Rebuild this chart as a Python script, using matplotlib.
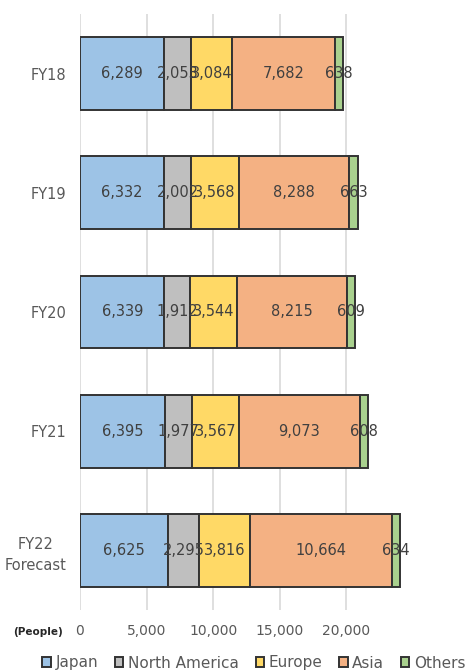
import numpy as np
import matplotlib.pyplot as plt

# headcount by region, fiscal years
years = ['FY18', 'FY19', 'FY20', 'FY21', 'FY22\nForecast']
regions = ['Japan', 'North America', 'Europe', 'Asia', 'Others']
japan = [6289, 6332, 6339, 6395, 6625]
north_america = [2053, 2002, 1912, 1977, 2295]
europe = [3084, 3568, 3544, 3567, 3816]
asia = [7682, 8288, 8215, 9073, 10664]
others = [638, 663, 609, 608, 634]

colors = ['#9DC3E6', '#BFBFBF', '#FFD966', '#F4B183', '#A9D18E']
text_color = '#404040'

fig = plt.figure(figsize=(4.68, 6.71), dpi=100)
ax = fig.add_axes([80 / 468, 61 / 671, 333 / 468, 596 / 671])

y = np.arange(len(years))
left = np.zeros(len(years))
for name, vals, col in zip(regions, [japan, north_america, europe, asia, others], colors):
    vals = np.array(vals)
    ax.barh(y, vals, left=left, height=0.61, color=col, edgecolor='#333333',
            linewidth=1.4, label=name, zorder=3)
    for yi, l, v in zip(y, left, vals):
        ax.text(l + v / 2, yi, f'{v:,}', ha='center', va='center',
                fontsize=10.5, color=text_color, zorder=4)
    left += vals

ax.set_ylim(len(years) - 0.5, -0.5)
ax.set_xlim(0, 25000)
ax.set_yticks(y)
ax.set_yticklabels(years, fontsize=10.5, color='#595959', linespacing=1.5,
                   multialignment='center')
ax.set_xticks([0, 5000, 10000, 15000, 20000])
ax.set_xticklabels(['0', '5,000', '10,000', '15,000', '20,000'], fontsize=10, color='#595959')
ax.tick_params(axis='y', length=0, pad=10)
ax.tick_params(axis='x', length=0, pad=10)
ax.grid(axis='x', color='#D9D9D9', linewidth=1.2, zorder=0)
for s in ax.spines.values():
    s.set_visible(False)

fig.text(38 / 468, 1 - 632 / 671, '(People)', ha='center', va='center',
         fontsize=7.5, fontweight='bold', color='#262626')

fig.legend(loc='center', bbox_to_anchor=(254 / 468, 1 - 663 / 671), ncol=5, frameon=False,
           fontsize=11, handlelength=0.55, handleheight=0.55, handletextpad=0.3,
           columnspacing=1.1, labelcolor='#595959', borderaxespad=0, borderpad=0)

fig.savefig('out.png', dpi=100)
